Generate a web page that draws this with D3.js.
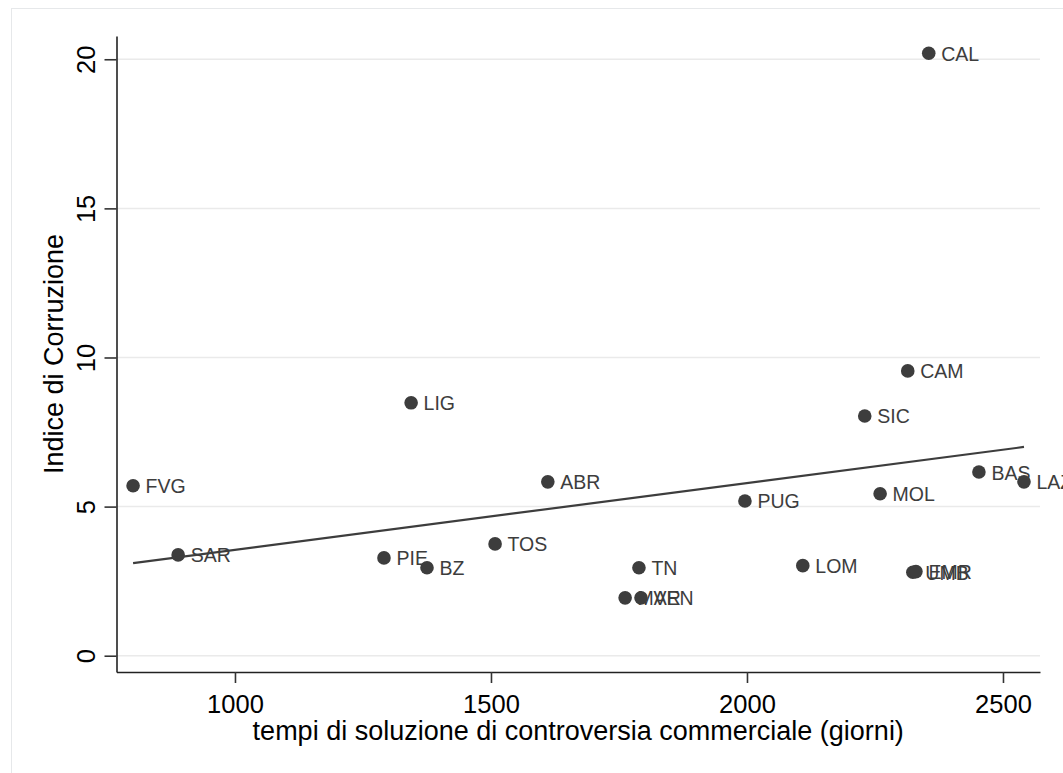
<!DOCTYPE html>
<html>
<head>
<meta charset="utf-8">
<script src="https://cdn.jsdelivr.net/npm/d3@7"></script>
<style>
  html, body { margin: 0; padding: 0; background: #fff; }
  svg { display: block; font-family: "Liberation Sans", Arial, sans-serif; }
</style>
</head>
<body>
<svg id="chart" width="1063" height="773"></svg>
<script>
// ---- data ----
const regions = ["CAL","CAM","SIC","LIG","BAS","LAZ","FVG","ABR","MOL","PUG","TOS","SAR","PIE","BZ","TN","LOM","UMB","EMR","MAR","VEN"];
const giorni  = [2355, 2314, 2230, 1344, 2453, 2541, 801, 1611, 2260, 1996, 1508, 889, 1291, 1375, 1789, 2109, 2324, 2330, 1762, 1793];
const corruzione = [20.2, 9.55, 8.04, 8.48, 6.16, 5.83, 5.70, 5.83, 5.43, 5.19, 3.75, 3.38, 3.28, 2.95, 2.95, 3.02, 2.80, 2.82, 1.94, 1.94];
const xTicks = [1000, 1500, 2000, 2500];
const yTicks = [0, 5, 10, 15, 20];
const xTitle = "tempi di soluzione di controversia commerciale (giorni)";
const yTitle = "Indice di Corruzione";

const svg = d3.select("#chart");
const L = 116.5, R = 1040, T = 36, B = 672;

// outer graph frame
svg.append("rect").attr("x", 11.5).attr("y", 8.5).attr("width", 1100).attr("height", 800)
  .attr("fill", "none").attr("stroke", "#e6e8ea").attr("stroke-width", 1);

const x = d3.scaleLinear().domain([768.6, 2572.3]).range([L, R]);
const y = d3.scaleLinear().domain([-0.546, 20.78]).range([B, T]);

// gridlines
svg.append("g").selectAll("line").data(yTicks).join("line")
  .attr("x1", L).attr("x2", R)
  .attr("y1", d => y(d)).attr("y2", d => y(d))
  .attr("stroke", "#eaeaea").attr("stroke-width", 1.5);

// x axis
const gx = svg.append("g").attr("transform", `translate(0,${B})`)
  .call(d3.axisBottom(x).tickValues(xTicks).tickFormat(d3.format("d")).tickSize(11).tickSizeOuter(0).tickPadding(8));
gx.select(".domain").attr("stroke", "#222").attr("stroke-width", 1.6);
gx.selectAll(".tick line").attr("stroke", "#333").attr("stroke-width", 1.6);
gx.selectAll(".tick text").attr("font-size", 25.5).attr("fill", "#000")
  .attr("font-family", "Liberation Sans, Arial, sans-serif")
  .attr("dy", null).attr("y", 41);

// y axis
const gy = svg.append("g").attr("transform", `translate(${L},0)`)
  .call(d3.axisLeft(y).tickValues(yTicks).tickFormat(d3.format("d")).tickSize(12).tickSizeOuter(0));
gy.select(".domain").attr("stroke", "#222").attr("stroke-width", 1.6);
gy.selectAll(".tick line").attr("stroke", "#333").attr("stroke-width", 1.6);
gy.selectAll(".tick text")
  .attr("font-size", 25.5).attr("fill", "#000")
  .attr("font-family", "Liberation Sans, Arial, sans-serif")
  .attr("text-anchor", "middle").attr("dy", null)
  .attr("x", 0).attr("y", -21.5)
  .attr("transform", "rotate(-90)");

// linear fit (OLS)
const mx = d3.mean(giorni), my = d3.mean(corruzione);
let sxy = 0, sxx = 0;
giorni.forEach((g, i) => { sxy += (g - mx) * (corruzione[i] - my); sxx += (g - mx) ** 2; });
const slope = sxy / sxx, icpt = my - slope * mx;
const x0 = d3.min(giorni), x1 = d3.max(giorni);

const pts = regions.map((r, i) => ({ r, g: giorni[i], c: corruzione[i] }));

// markers
svg.append("g").selectAll("circle").data(pts).join("circle")
  .attr("cx", d => x(d.g)).attr("cy", d => y(d.c)).attr("r", 6.8)
  .attr("fill", "#3d3d3d");

// labels
svg.append("g").selectAll("text").data(pts).join("text")
  .attr("x", d => x(d.g) + 12.5).attr("y", d => y(d.c) + 7.5)
  .attr("font-size", 19.5).attr("fill", "#3d3d3d")
  .text(d => d.r);

// fit line
svg.append("line")
  .attr("x1", x(x0)).attr("y1", y(icpt + slope * x0))
  .attr("x2", x(x1)).attr("y2", y(icpt + slope * x1))
  .attr("stroke", "#3d3d3d").attr("stroke-width", 2.2);

// titles
svg.append("text").attr("x", (L + R) / 2).attr("y", 740)
  .attr("text-anchor", "middle").attr("font-size", 27).attr("fill", "#000")
  .text(xTitle);
svg.append("text").attr("transform", `translate(63,${(T + B) / 2}) rotate(-90)`)
  .attr("text-anchor", "middle").attr("font-size", 27).attr("fill", "#000")
  .text(yTitle);
</script>
</body>
</html>
